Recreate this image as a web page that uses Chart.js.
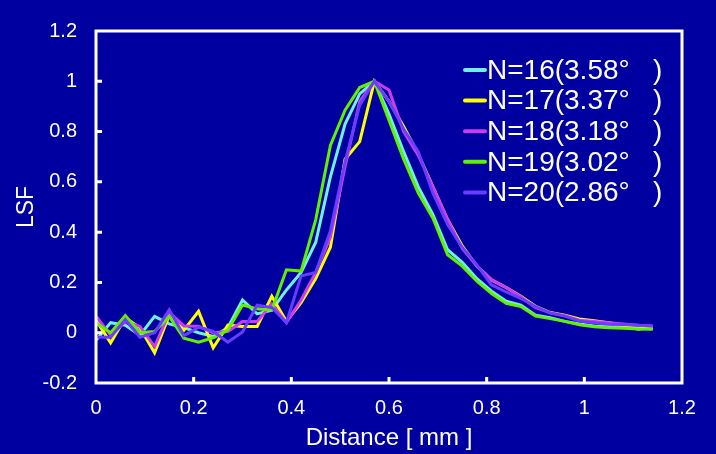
<!DOCTYPE html>
<html><head><meta charset="utf-8">
<script src="https://cdn.jsdelivr.net/npm/chart.js@4"></script>
<style>html,body{margin:0;padding:0;background:#0000A0;overflow:hidden}canvas{display:block}</style>
</head><body>
<canvas id="c" width="716" height="454"></canvas>
<script>
// Distance [mm] of each sample
const distance = [0,0.03,0.06,0.09,0.12,0.15,0.18,0.21,0.24,0.27,0.30,0.33,0.36,0.39,0.42,0.45,0.48,0.51,0.54,0.57,0.60,0.63,0.66,0.69,0.72,0.75,0.78,0.81,0.84,0.87,0.90,0.93,0.96,0.99,1.02,1.05,1.08,1.11,1.14];

const lsfN16 = [-0.03,0.04,0.03,-0.01,0.065,0.035,0.02,0.0,-0.015,0.02,0.13,0.075,0.09,0.17,0.24,0.36,0.62,0.83,0.95,1.0,0.87,0.72,0.58,0.47,0.33,0.28,0.215,0.165,0.125,0.11,0.07,0.06,0.045,0.035,0.027,0.025,0.022,0.02,0.016];
const lsfN17 = [0.05,-0.04,0.06,0.02,-0.08,0.07,0.01,0.085,-0.06,0.03,0.025,0.025,0.145,0.045,0.12,0.215,0.34,0.69,0.76,1.0,0.92,0.82,0.71,0.58,0.45,0.345,0.265,0.21,0.18,0.145,0.105,0.08,0.07,0.055,0.048,0.04,0.03,0.014,0.022];
const lsfN18 = [0.066,-0.01,0.045,0.025,-0.055,0.08,0.027,0.026,0.0,0.005,0.045,0.045,0.115,0.04,0.13,0.24,0.38,0.66,0.92,1.0,0.965,0.8,0.705,0.58,0.45,0.335,0.265,0.21,0.18,0.143,0.1,0.08,0.068,0.05,0.045,0.04,0.035,0.03,0.027];
const lsfN19 = [0.04,0.0,0.068,0.0,0.005,0.065,-0.022,-0.038,-0.02,0.01,0.11,0.095,0.09,0.25,0.245,0.45,0.745,0.885,0.975,1.0,0.845,0.69,0.555,0.455,0.31,0.265,0.205,0.156,0.117,0.104,0.066,0.056,0.045,0.032,0.024,0.02,0.018,0.015,0.014];
const lsfN20 = [-0.018,-0.018,0.052,-0.018,0.0,0.092,-0.012,0.022,0.005,-0.038,0.003,0.11,0.1,0.04,0.226,0.24,0.405,0.68,0.905,1.0,0.92,0.81,0.72,0.555,0.43,0.34,0.27,0.19,0.162,0.137,0.104,0.078,0.066,0.046,0.04,0.034,0.033,0.03,0.027];

const seriesLabels = ['N=16(3.58°   )','N=17(3.37°   )','N=18(3.18°   )','N=19(3.02°   )','N=20(2.86°   )'];
const seriesValues = [lsfN16, lsfN17, lsfN18, lsfN19, lsfN20];
const seriesColors = ['#70F0E0','#FFFF00','#CC3CEE','#60F000','#6A3CFF'];
const drawOrder = [5,4,3,2,1];

const xTickValues = [0,0.2,0.4,0.6,0.8,1.0,1.2];
const yTickValues = [-0.2,0,0.2,0.4,0.6,0.8,1.0,1.2];

const BG = '#0000A0';
const FONT = "'Liberation Sans', Arial, sans-serif";

const bgPlugin = {
  id: 'bg',
  beforeDraw(chart) {
    const c = chart.ctx; c.save(); c.fillStyle = BG; c.fillRect(0, 0, chart.width, chart.height); c.restore();
  }
};

const framePlugin = {
  id: 'frame',
  afterDatasetsDraw(chart) {
    const {ctx, chartArea: a, scales: {x, y}} = chart;
    ctx.save();
    ctx.strokeStyle = '#FFFFFF';
    ctx.lineWidth = 3;
    ctx.strokeRect(a.left, a.top, a.right - a.left, a.bottom - a.top);
    ctx.beginPath();
    xTickValues.slice(1, -1).forEach(v => {
      const px = x.getPixelForValue(v);
      ctx.moveTo(px, a.bottom); ctx.lineTo(px, a.bottom - 6);
    });
    yTickValues.slice(1, -1).forEach(v => {
      const py = y.getPixelForValue(v);
      ctx.moveTo(a.left, py); ctx.lineTo(a.left + 6, py);
    });
    ctx.stroke();
    // legend
    const lx0 = a.right - 217, lx1 = a.right - 197, tx = a.right - 195;
    chart.data.datasets.forEach((ds, k) => {
      const yy = a.top + 39 + k * 30.6;
      ctx.strokeStyle = ds.borderColor;
      ctx.lineWidth = 4; ctx.lineCap = 'round';
      ctx.beginPath(); ctx.moveTo(lx0, yy); ctx.lineTo(lx1, yy); ctx.stroke();
      ctx.fillStyle = '#FFFFFF';
      ctx.font = '28px ' + FONT;
      ctx.textBaseline = 'middle'; ctx.textAlign = 'left';
      ctx.fillText(ds.label, tx, yy + 1);
    });
    ctx.restore();
  }
};

const fmt = v => String(+(+v).toFixed(1));

new Chart(document.getElementById('c'), {
  type: 'line',
  data: {
    datasets: seriesValues.map((vals, k) => ({
      label: seriesLabels[k],
      data: distance.map((d, i) => ({x: d, y: vals[i]})),
      borderColor: seriesColors[k],
      backgroundColor: seriesColors[k],
      borderWidth: 3,
      pointRadius: 0,
      tension: 0,
      fill: false,
      order: drawOrder[k]
    }))
  },
  options: {
    responsive: false,
    devicePixelRatio: 1,
    animation: false,
    layout: {padding: {left: 0, right: 34, top: 21, bottom: 0}},
    plugins: {legend: {display: false}, tooltip: {enabled: false}},
    scales: {
      x: {
        type: 'linear', min: 0, max: 1.2,
        afterBuildTicks: s => { s.ticks = xTickValues.map(v => ({value: v})); },
        afterFit: s => { s.height = 71; },
        grid: {display: false, drawTicks: false},
        border: {display: false},
        ticks: {color: '#FFFFFF', font: {family: FONT, size: 20}, padding: 13, maxRotation: 0, callback: fmt},
        title: {display: true, text: 'Distance [ mm ]', color: '#FFFFFF', font: {family: FONT, size: 24}, padding: {top: 0, bottom: 1}}
      },
      y: {
        type: 'linear', min: -0.2, max: 1.2,
        afterBuildTicks: s => { s.ticks = yTickValues.map(v => ({value: v})); },
        afterFit: s => { s.width = 96; },
        grid: {display: false, drawTicks: false},
        border: {display: false},
        ticks: {color: '#FFFFFF', font: {family: FONT, size: 20}, padding: 19, callback: fmt},
        title: {display: true, text: 'LSF', color: '#FFFFFF', font: {family: FONT, size: 23}, padding: {top: 13, bottom: 0}}
      }
    }
  },
  plugins: [bgPlugin, framePlugin]
});
</script>
</body></html>
